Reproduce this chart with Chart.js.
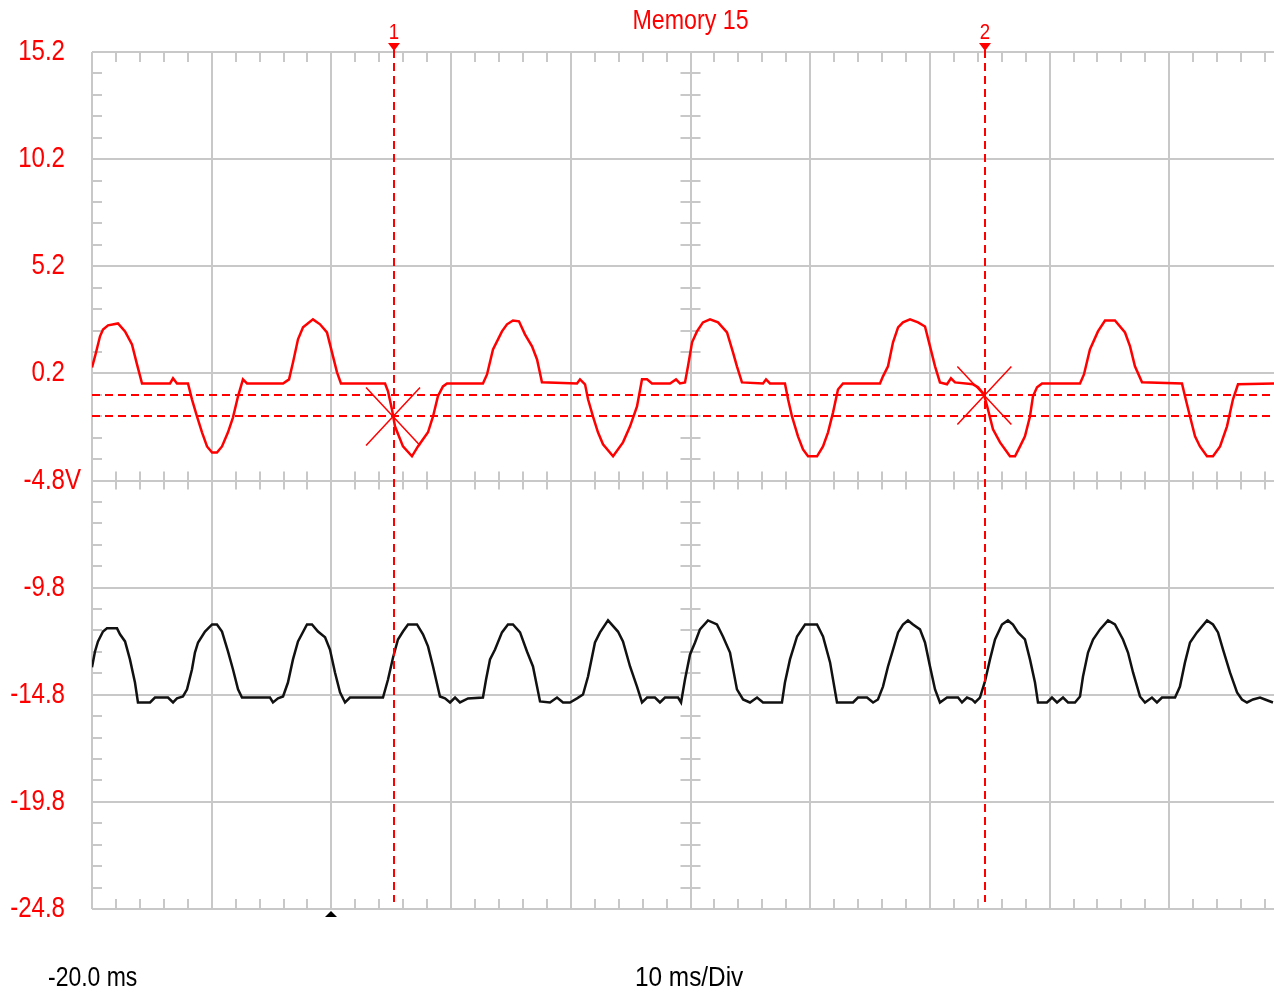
<!DOCTYPE html>
<html><head><meta charset="utf-8">
<script src="https://cdn.jsdelivr.net/npm/chart.js@4/dist/chart.umd.min.js"></script>
<style>
html,body{margin:0;padding:0;background:#fff;overflow:hidden;width:1274px;height:993px;}
#wrap{position:absolute;left:0;top:0;width:1300px;height:993px;}
</style></head><body>
<div id="wrap"><canvas id="c" width="1300" height="993"></canvas></div>
<script>
// ---- data (time in ms, volts in V) ----
const redTime = [-20.00,-19.75,-19.33,-19.08,-18.66,-17.83,-17.24,-16.66,-16.24,-15.82,-13.48,-13.23,-12.90,-11.98,-11.65,-11.23,-10.81,-10.39,-9.97,-9.56,-9.14,-8.64,-8.22,-7.80,-7.39,-7.05,-4.04,-3.54,-3.21,-2.79,-2.37,-1.54,-0.95,-0.37,0.05,0.47,0.80,4.48,4.73,5.06,5.31,5.98,6.73,7.23,8.07,8.49,8.90,9.32,9.66,
12.66,13.00,13.50,14.25,14.67,15.17,15.67,16.17,16.76,17.18,17.59,20.52,20.77,21.19,21.44,21.85,22.27,22.69,23.53,24.36,24.95,25.53,25.95,26.37,26.78,28.29,28.79,29.12,29.54,29.79,30.13,30.54,31.04,31.63,32.30,33.05,33.55,33.88,34.30,36.06,36.31,36.64,37.89,38.15,38.48,38.98,39.40,39.82,40.57,41.07,41.49,41.91,42.32,42.74,
45.83,46.08,46.50,46.92,47.34,47.75,48.34,49.01,49.59,50.01,50.43,50.84,51.43,51.76,52.10,53.60,54.02,54.52,54.85,55.27,55.86,56.69,57.11,57.53,57.94,58.36,58.61,58.95,59.37,62.54,62.87,63.37,64.04,64.63,65.46,66.30,66.72,67.13,67.72,71.06,71.31,71.73,72.15,72.56,73.15,73.65,74.24,74.82,75.32,75.74,78.75];
const redVolts = [0.48,0.99,1.93,2.25,2.44,2.53,2.16,1.55,0.62,-0.27,-0.27,-0.03,-0.27,-0.27,-1.01,-1.81,-2.55,-3.21,-3.49,-3.49,-3.21,-2.55,-1.85,-0.87,-0.08,-0.27,-0.27,-0.08,0.71,1.79,2.35,2.72,2.49,2.11,1.18,0.25,-0.27,-0.27,-0.64,-1.48,-2.27,-3.21,-3.67,-3.21,-2.55,-1.81,-0.87,-0.41,-0.27,
-0.27,0.15,1.32,2.16,2.49,2.67,2.63,2.02,1.46,0.85,-0.22,-0.27,-0.08,-0.31,-1.01,-1.81,-2.55,-3.11,-3.67,-3.02,-2.27,-1.34,-0.08,-0.08,-0.27,-0.27,-0.08,-0.27,-0.22,0.53,1.65,2.16,2.58,2.72,2.58,2.11,1.18,0.53,-0.22,-0.27,-0.08,-0.27,-0.27,-1.01,-1.81,-2.74,-3.35,-3.67,-3.67,-3.21,-2.55,-1.62,-0.55,-0.27,
-0.27,0.06,0.53,1.65,2.35,2.58,2.72,2.58,2.39,1.46,0.53,-0.22,-0.31,-0.03,-0.22,-0.31,-0.45,-0.78,-1.48,-2.41,-3.02,-3.67,-3.67,-3.21,-2.74,-1.81,-0.87,-0.45,-0.27,-0.27,0.15,1.32,2.16,2.67,2.67,2.11,1.46,0.53,-0.22,-0.27,-0.87,-1.81,-2.74,-3.21,-3.67,-3.67,-3.21,-2.27,-1.01,-0.31,-0.27];

const blackTime = [-20.00,-19.75,-19.50,-19.08,-18.75,-17.91,-17.66,-17.24,-16.83,-16.41,-16.16,-15.15,-14.74,-13.65,-13.23,-12.90,-12.40,-12.06,-11.65,-11.40,-11.14,-10.56,-9.97,-9.56,-9.14,-8.64,-8.22,-7.80,-7.47,-5.13,-4.88,-4.46,-4.04,-3.63,-3.21,-2.79,-2.04,-1.62,-1.12,-0.53,-0.12,0.30,0.72,1.14,1.55,4.31,4.73,5.15,5.56,5.98,6.40,7.15,7.65,8.07,8.49,9.07,9.49,9.91,10.33,10.74,11.41,12.66,
12.92,13.25,13.67,14.25,14.75,15.17,15.76,16.34,16.84,17.43,18.26,18.85,19.35,19.93,20.52,21.02,21.44,22.02,22.44,23.11,23.94,24.36,24.95,25.53,25.95,26.37,27.03,27.45,27.87,28.96,29.21,29.54,29.96,30.38,30.79,31.46,32.21,32.71,33.30,33.88,34.39,34.97,35.56,36.06,37.64,37.89,38.31,38.90,39.57,40.57,41.07,41.66,42.24,43.58,43.99,44.75,
45.25,45.66,46.08,46.50,46.92,47.34,47.75,48.17,48.59,49.17,49.59,50.01,50.43,50.84,51.43,52.35,52.68,53.10,53.52,53.77,54.18,54.60,55.02,55.44,56.02,56.52,56.94,57.36,57.94,58.36,58.78,59.03,59.78,60.20,60.62,61.12,61.54,62.12,62.54,62.79,63.21,63.63,64.21,64.88,65.46,66.13,66.55,66.97,67.55,67.97,68.55,68.97,69.39,70.48,70.89,71.31,71.73,72.31,73.15,73.65,74.07,74.49,75.07,75.66,76.07,76.49,76.99,77.58,78.00,78.66];
const blackVolts = [-13.52,-12.78,-12.31,-11.85,-11.70,-11.70,-11.98,-12.31,-13.15,-14.23,-15.16,-15.16,-14.93,-14.93,-15.16,-14.97,-14.88,-14.55,-13.62,-12.83,-12.36,-11.85,-11.52,-11.52,-11.85,-12.78,-13.62,-14.55,-14.93,-14.93,-15.16,-14.97,-14.88,-14.23,-13.15,-12.31,-11.52,-11.52,-11.85,-12.12,-12.69,-13.76,-14.69,-15.16,-14.93,-14.93,-14.09,-13.06,-12.22,-11.85,-11.52,-11.52,-11.98,-12.54,-13.48,-14.88,-14.97,-15.16,-14.93,-15.16,-14.97,-14.93,
-14.09,-13.15,-12.69,-11.89,-11.52,-11.52,-11.89,-12.78,-13.48,-15.11,-15.16,-14.93,-15.16,-15.16,-14.97,-14.79,-13.95,-12.36,-11.89,-11.33,-11.85,-12.31,-13.48,-14.42,-15.16,-14.93,-14.93,-15.16,-14.93,-14.93,-15.16,-14.09,-12.92,-12.36,-11.75,-11.33,-11.52,-12.08,-12.83,-14.55,-15.02,-15.16,-14.93,-15.16,-15.16,-14.23,-13.15,-12.08,-11.52,-11.52,-12.08,-13.29,-15.16,-15.16,-14.93,-14.93,
-15.16,-15.02,-14.42,-13.48,-12.69,-11.89,-11.52,-11.33,-11.52,-11.75,-12.36,-13.48,-14.55,-15.16,-14.93,-14.93,-15.16,-14.93,-15.02,-15.16,-14.93,-14.18,-13.15,-12.22,-11.52,-11.33,-11.52,-11.89,-12.22,-13.15,-14.23,-15.16,-15.16,-14.93,-15.16,-14.93,-15.16,-15.16,-14.88,-13.95,-12.83,-12.22,-11.75,-11.33,-11.52,-12.22,-12.83,-13.76,-14.88,-15.16,-14.93,-15.16,-14.93,-14.93,-14.42,-13.29,-12.36,-11.89,-11.33,-11.52,-11.89,-12.69,-13.76,-14.69,-15.02,-15.16,-15.02,-14.93,-15.02,-15.16];

const yTickLabels = ['-24.8','-19.8','-14.8','-9.8','-4.8V','0.2','5.2','10.2','15.2'];
const timeStart = -20, timeEnd = 80, msPerDiv = 10;
const voltsMin = -24.8, voltsMax = 15.2, voltsPerDiv = 5;
const cursorTimes = [5.23, 54.60];
const cursorNames = ['1', '2'];
const cursorVolts = [-0.83, -1.81];
const markerTimes = [5.15, 54.55];
const markerVolts = [-1.81, -0.83];
const triggerTime = 0;
const titleText = 'Memory 15';
const startLabel = '-20.0 ms';
const divLabel = '10 ms/Div';

const RED = '#ff0000';
const GRID = '#c8c8c8';
const FONT = '"Liberation Sans",Arial,sans-serif';

// condensed text drawing (horizontal squeeze)
function condText(ctx, str, x, y, align, sx) {
  ctx.save();
  ctx.translate(x, y);
  ctx.scale(sx, 1);
  ctx.textAlign = align;
  ctx.fillText(str, 0, 0);
  ctx.restore();
}

const scopePlugin = {
  id: 'scope',
  beforeDatasetsDraw(chart) {
    const {ctx, chartArea: a, scales: {x, y}} = chart;
    ctx.save();
    ctx.strokeStyle = GRID;
    ctx.lineWidth = 2;
    ctx.beginPath();
    const cx = x.getPixelForValue(timeStart + 5 * msPerDiv);
    const cy = y.getPixelForValue(voltsMin + 4 * voltsPerDiv);
    for (let t = timeStart; t <= timeEnd + 1e-9; t += msPerDiv / 5) {
      const px = Math.round(x.getPixelForValue(t));
      ctx.moveTo(px, a.top); ctx.lineTo(px, a.top + 10);
      ctx.moveTo(px, a.bottom); ctx.lineTo(px, a.bottom - 10);
      ctx.moveTo(px, cy - 9); ctx.lineTo(px, cy + 9);
    }
    for (let v = voltsMin; v <= voltsMax + 1e-9; v += voltsPerDiv / 5) {
      const py = Math.round(y.getPixelForValue(v));
      ctx.moveTo(a.left, py); ctx.lineTo(a.left + 10, py);
      ctx.moveTo(cx - 10, py); ctx.lineTo(cx + 10, py);
    }
    ctx.stroke();
    ctx.restore();
  },
  afterDatasetsDraw(chart) {
    const {ctx, chartArea: a, scales: {x, y}} = chart;
    ctx.save();
    ctx.strokeStyle = RED;
    ctx.lineWidth = 2;
    ctx.setLineDash([8, 5]);
    ctx.beginPath();
    cursorTimes.forEach(t => {
      const px = Math.round(x.getPixelForValue(t));
      ctx.moveTo(px, a.top - 2); ctx.lineTo(px, a.bottom - 7);
    });
    cursorVolts.forEach(v => {
      const py = Math.round(y.getPixelForValue(v));
      ctx.moveTo(a.left, py); ctx.lineTo(a.right, py);
    });
    ctx.stroke();
    ctx.setLineDash([]);
    ctx.lineWidth = 1.5;
    ctx.beginPath();
    markerTimes.forEach((t, i) => {
      const px = x.getPixelForValue(t), py = y.getPixelForValue(markerVolts[i]);
      ctx.moveTo(px - 27, py - 29); ctx.lineTo(px + 27, py + 29);
      ctx.moveTo(px - 27, py + 29); ctx.lineTo(px + 27, py - 29);
    });
    ctx.stroke();
    ctx.fillStyle = RED;
    ctx.textBaseline = 'middle';
    ctx.font = '22px ' + FONT;
    cursorTimes.forEach((t, i) => {
      const px = Math.round(x.getPixelForValue(t));
      condText(ctx, cursorNames[i], px, 33, 'center', 0.85);
      ctx.beginPath();
      ctx.moveTo(px - 6, 43); ctx.lineTo(px + 6, 43); ctx.lineTo(px, 51); ctx.closePath();
      ctx.fill();
    });
    ctx.font = '27px ' + FONT;
    condText(ctx, titleText, x.getPixelForValue(timeStart + 5 * msPerDiv), 22, 'center', 0.86);
    ctx.font = '29px ' + FONT;
    y.ticks.forEach((tk, i) => {
      const py = y.getPixelForValue(tk.value);
      const lab = yTickLabels[i];
      if (lab.endsWith('V')) {
        condText(ctx, lab.slice(0, -1), 65, py, 'right', 0.83);
        condText(ctx, 'V', 65, py, 'left', 0.83);
      } else {
        condText(ctx, lab, 65, py, 'right', 0.83);
      }
    });
    ctx.fillStyle = '#000';
    ctx.font = '28px ' + FONT;
    condText(ctx, startLabel, 48, 978, 'left', 0.82);
    condText(ctx, divLabel, 635, 978, 'left', 0.87);
    const tx = Math.round(x.getPixelForValue(triggerTime));
    ctx.beginPath();
    ctx.moveTo(tx, a.bottom + 2); ctx.lineTo(tx + 6, a.bottom + 8); ctx.lineTo(tx - 6, a.bottom + 8); ctx.closePath();
    ctx.fill();
    ctx.restore();
  }
};

const toPts = (ts, vs) => ts.map((t, i) => ({x: t, y: vs[i]}));

new Chart(document.getElementById('c').getContext('2d'), {
  type: 'line',
  data: {
    datasets: [
      {data: toPts(redTime, redVolts), borderColor: RED, borderWidth: 2.5, pointRadius: 0, tension: 0, fill: false},
      {data: toPts(blackTime, blackVolts), borderColor: '#111', borderWidth: 2.5, pointRadius: 0, tension: 0, fill: false}
    ]
  },
  options: {
    responsive: false,
    animation: false,
    devicePixelRatio: 1,
    layout: {padding: {left: 92, top: 52, right: 11, bottom: 84}},
    plugins: {legend: {display: false}, tooltip: {enabled: false}},
    scales: {
      x: {type: 'linear', min: timeStart, max: timeEnd,
          ticks: {stepSize: msPerDiv, display: false},
          grid: {color: GRID, lineWidth: 2, drawTicks: false},
          border: {display: false}},
      y: {type: 'linear', min: voltsMin, max: voltsMax,
          ticks: {stepSize: voltsPerDiv, display: false},
          grid: {color: GRID, lineWidth: 2, drawTicks: false},
          border: {display: false}}
    }
  },
  plugins: [scopePlugin]
});
</script>
</body></html>
